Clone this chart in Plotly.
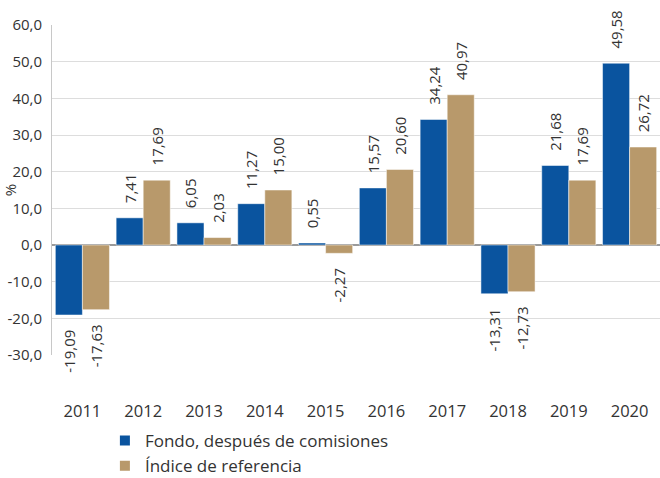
import plotly.graph_objects as go

years = ["2011", "2012", "2013", "2014", "2015", "2016", "2017", "2018", "2019", "2020"]
fondo = [-19.09, 7.41, 6.05, 11.27, 0.55, 15.57, 34.24, -13.31, 21.68, 49.58]
indice = [-17.63, 17.69, 2.03, 15.00, -2.27, 20.60, 40.97, -12.73, 17.69, 26.72]
tick_vals = [-30, -20, -10, 0, 10, 20, 30, 40, 50, 60]
tick_text = [f"{v:.1f}".replace(".", ",") for v in tick_vals]

BLUE = "#0A549F"
TAN = "#B8996B"
FONT = "Open Sans, Lato, sans-serif"
PAD = "\u00a0\u00a0\u00a0"


def templates(vals):
    # rotated labels read upward: pad on the side facing the bar
    return [PAD + "%{y:.2f}" if v >= 0 else "%{y:.2f}" + PAD for v in vals]


fig = go.Figure()
for name, vals, col in [("Fondo, después de comisiones", fondo, BLUE),
                        ("Índice de referencia", indice, TAN)]:
    fig.add_trace(go.Bar(
        x=years, y=vals, name=name, marker=dict(color=col, line=dict(color="white", width=0.5)),
        texttemplate=templates(vals), textposition="outside", textangle=-90,
        constraintext="none", hoverinfo="skip",
        textfont=dict(size=15, color="#333333", family=FONT), cliponaxis=False,
    ))

fig.update_layout(
    width=660, height=478,
    margin=dict(l=52, r=0, t=25, b=123, autoexpand=False),
    paper_bgcolor="white", plot_bgcolor="white",
    separators=",.",
    barmode="group", bargap=0.11, bargroupgap=0,
    font=dict(family=FONT, color="#333333", size=14),
    showlegend=True,
    legend=dict(orientation="v", x=0.087, y=0.115, xanchor="left", yanchor="top",
                yref="container",
                font=dict(size=17, color="#333333", family=FONT), tracegroupgap=8,
                itemsizing="constant"),
    xaxis=dict(type="category", showgrid=False, showline=False, ticks="",
               automargin=False,
               tickfont=dict(size=16.5, color="#333333"), ticklabelstandoff=44),
    yaxis=dict(range=[-30, 60], tickvals=tick_vals, ticktext=tick_text,
               automargin=False,
               showgrid=True, gridcolor="#DDDDDD", gridwidth=1,
               zeroline=True, zerolinecolor="#9A9A9A", zerolinewidth=2,
               showline=True, linecolor="#C8C8C8", linewidth=1,
               ticks="", tickfont=dict(size=15, color="#333333"), ticklabelstandoff=6,
               title=dict(text="%", font=dict(size=15, color="#333333"), standoff=2)),
)

fig.write_html("out.html", config={"displayModeBar": False},
               post_script="document.body.style.margin='0';")
